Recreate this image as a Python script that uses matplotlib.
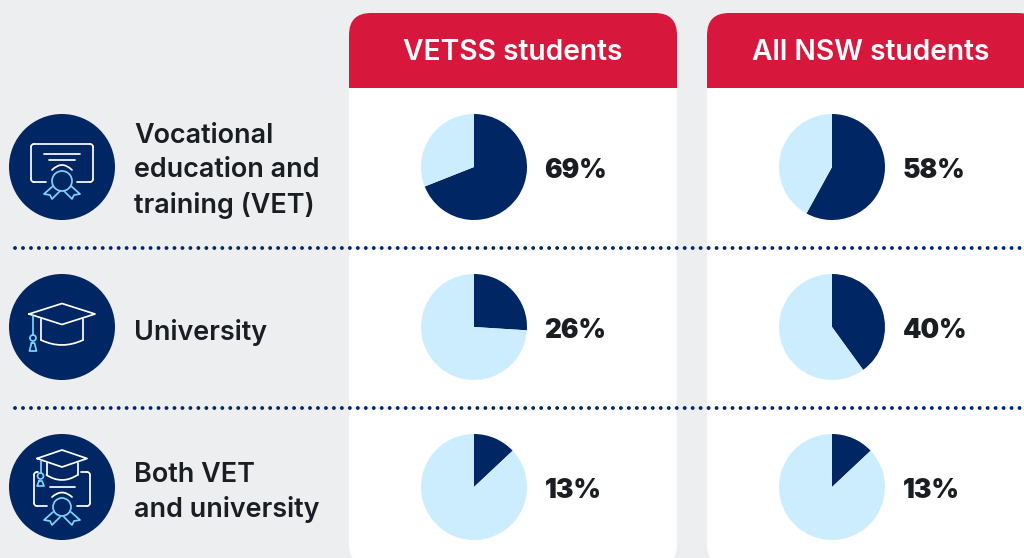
import matplotlib
matplotlib.use('Agg')
import matplotlib.pyplot as plt
from matplotlib.patches import Circle, FancyBboxPatch, Rectangle
from matplotlib.path import Path
from matplotlib.patches import PathPatch

columns = ['VETSS students', 'All NSW students']
row_labels = ['Vocational\neducation and\ntraining (VET)', 'University', 'Both VET\nand university']
vetss_pct = [69, 26, 13]
nsw_pct = [58, 40, 13]

NAVY = '#002664'
RED = '#D7183C'
LIGHT = '#CBEDFD'
BG = '#ECEEF0'
ICON_BLUE = '#7FD3F7'
INK = '#1A1D21'
W, H = 1024, 558

plt.rcParams['font.family'] = ['Inter', 'DejaVu Sans']

fig = plt.figure(figsize=(W / 100, H / 100), dpi=100, facecolor=BG)
ax = fig.add_axes([0, 0, 1, 1])
ax.set_xlim(0, W)
ax.set_ylim(H, 0)
ax.axis('off')


def card(x0, x1, label):
    # white body, then red header clipped to its lower edge
    body = FancyBboxPatch((x0 + 22, 13 + 22), x1 - x0 - 44, 566 - 13 - 44,
                          boxstyle='round,pad=22,rounding_size=22', fc='white', ec='none', zorder=1)
    ax.add_patch(body)
    head = FancyBboxPatch((x0 + 22, 13 + 22), x1 - x0 - 44, 566 - 13 - 44,
                          boxstyle='round,pad=22,rounding_size=22', fc=RED, ec='none', zorder=2)
    ax.add_patch(head)
    head.set_clip_path(Rectangle((x0, 0), x1 - x0, 88, transform=ax.transData))
    ax.text((x0 + x1) / 2 if x1 < W else 870.5, 52.5, label, color='white', fontsize=20.3,
            fontweight='semibold', ha='center', va='center', zorder=3)


def stroke(points, color='white', lw=1.25, closed=False):
    xs = [p[0] for p in points]
    ys = [p[1] for p in points]
    if closed:
        xs.append(xs[0])
        ys.append(ys[0])
    ax.plot(xs, ys, color=color, lw=lw, solid_capstyle='round', solid_joinstyle='round', zorder=6)


def curve(p0, p1, p2, color='white', lw=1.25):
    path = Path([p0, p1, p2], [Path.MOVETO, Path.CURVE3, Path.CURVE3])
    ax.add_patch(PathPatch(path, fc='none', ec=color, lw=lw, capstyle='round', zorder=6))


def rosette(cx, cy, r):
    ax.add_patch(Circle((cx, cy), r, fc=NAVY, ec=ICON_BLUE, lw=1.25, zorder=7))
    for s in (-1, 1):
        stroke([(cx + s * 9, cy + 5), (cx + s * 18, cy + 13), (cx + s * 12, cy + 14),
                (cx + s * 10, cy + 18), (cx + s * 2, cy + 10)], color=ICON_BLUE)


def frame(x0, x1, y0, y1, gap0, gap1, top_gap=None):
    r = 3
    stroke([(gap0, y1), (x0 + r, y1)])
    curve((x0 + r, y1), (x0, y1), (x0, y1 - r))
    stroke([(x0, y1 - r), (x0, y0 + r)])
    curve((x0, y0 + r), (x0, y0), (x0 + r, y0))
    if top_gap is None:
        stroke([(x0 + r, y0), (x1 - r, y0)])
    else:
        stroke([(x0 + r, y0), (top_gap[0], y0)])
        stroke([(top_gap[1], y0), (x1 - r, y0)])
    curve((x1 - r, y0), (x1, y0), (x1, y0 + r))
    stroke([(x1, y0 + r), (x1, y1 - r)])
    curve((x1, y1 - r), (x1, y1), (x1 - r, y1))
    stroke([(x1 - r, y1), (gap1, y1)])


def cap(cx, top, half, depth, skull_half, skull_bottom, tassel_x, knot_y, tassel_end):
    mid = top + depth
    stroke([(cx - half, mid), (cx, top), (cx + half, mid), (cx, mid + depth)], closed=True)
    sy = mid + 5 * depth / 10
    stroke([(cx - skull_half, sy), (cx - skull_half, skull_bottom - 6)])
    stroke([(cx + skull_half, sy), (cx + skull_half, skull_bottom - 6)])
    curve((cx - skull_half, skull_bottom - 6), (cx, skull_bottom + 4), (cx + skull_half, skull_bottom - 6))
    stroke([(tassel_x, mid + 2), (tassel_x, knot_y - 3)], color=ICON_BLUE)
    ax.add_patch(Circle((tassel_x, knot_y), 3, fc='none', ec=ICON_BLUE, lw=1.25, zorder=6))
    stroke([(tassel_x - 1.5, knot_y + 5), (tassel_x + 1.5, knot_y + 5),
            (tassel_x + 3.5, tassel_end), (tassel_x - 3.5, tassel_end)], color=ICON_BLUE, closed=True)


def draw_certificate_icon():
    frame(31, 93, 144, 182, 46, 77)
    stroke([(44, 153.5), (80, 153.5)])
    stroke([(49, 160), (75, 160)])
    curve((52, 170), (62, 160), (72, 170))
    rosette(62, 181, 10)


def draw_cap_icon():
    cap(62, 303.5, 33, 10.5, 21, 346, 33, 338, 351)


def draw_both_icon():
    frame(34, 90, 472, 506, 47, 77, top_gap=(38, 81))
    cap(62, 450, 25, 8.5, 15.5, 481, 40.5, 476, 486)
    stroke([(50, 487), (75, 487)])
    curve((52, 497), (62, 488), (72, 497))
    rosette(62, 507, 9)


card(349, 677, columns[0])
card(707, 1040, columns[1])

rows_y = [167, 327, 487]
label_y = [171, 332, 492.5]
icons = [draw_certificate_icon, draw_cap_icon, draw_both_icon]
for y, ty, label, draw_icon in zip(rows_y, label_y, row_labels, icons):
    ax.add_patch(Circle((62, y), 53, fc=NAVY, ec='none', zorder=5))
    draw_icon()
    ax.text(134.5, ty, label, color=INK, fontsize=19.4, fontweight='semibold',
            ha='left', va='center', linespacing=1.42, zorder=3)

for y in (247.5, 407.5):
    ax.plot([15, W], [y, y], color=NAVY, lw=2.8, linestyle=(0, (0.01, 2.04)),
            dash_capstyle='round', zorder=4)

for cx, values in zip((474, 832), (vetss_pct, nsw_pct)):
    for y, pct in zip(rows_y, values):
        pax = fig.add_axes([(cx - 53) / W, 1 - (y + 53) / H, 106 / W, 106 / H])
        pax.pie([pct, 100 - pct], colors=[NAVY, LIGHT], startangle=90, counterclock=False, radius=1)
        pax.set_xlim(-1, 1)
        pax.set_ylim(-1, 1)
        ax.text(cx + 70.5, y + 4, f'{pct}%', color=INK, fontsize=18.9, fontweight=900,
                ha='left', va='center', zorder=3)

fig.savefig('out.png', dpi=100, facecolor=BG)
